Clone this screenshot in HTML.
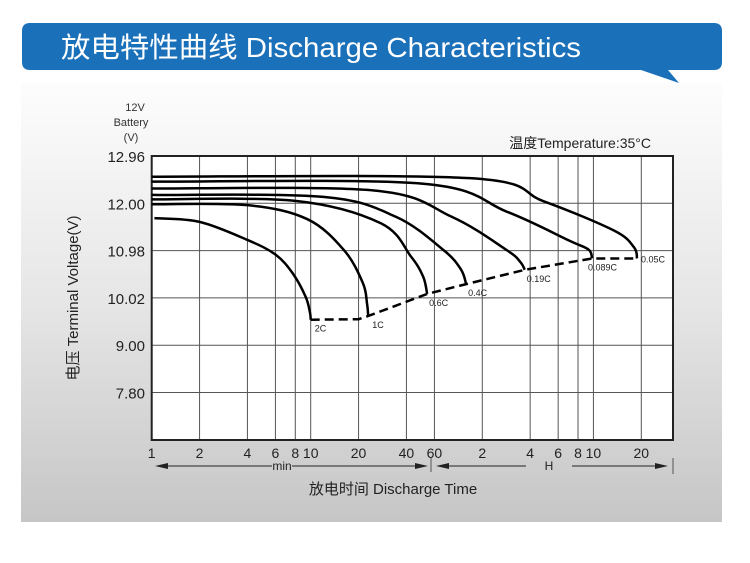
<!DOCTYPE html>
<html><head><meta charset="utf-8"><style>
html,body{margin:0;padding:0;background:#fff;}
svg{display:block;font-family:"Liberation Sans","Noto Sans CJK SC",sans-serif;}
</style></head><body>
<svg id="chart" width="750" height="563" viewBox="0 0 750 563">
<defs>
<linearGradient id="panelGrad" x1="0" y1="0" x2="0" y2="1">
<stop offset="0" stop-color="#fdfdfd"/><stop offset="0.5" stop-color="#e6e6e6"/><stop offset="1" stop-color="#c6c6c6"/>
</linearGradient>
</defs>
<rect x="21" y="82" width="701" height="440" fill="url(#panelGrad)"/>
<path d="M30,23 H714 Q722,23 722,31 V62 Q722,70 714,70 H668 L679,83 L641,70 H30 Q22,70 22,62 V31 Q22,23 30,23 Z" fill="#1a70b9"/>
<text x="61" y="57" font-size="28" fill="#fff" textLength="520" lengthAdjust="spacingAndGlyphs">放电特性曲线 Discharge Characteristics</text>
<text x="135" y="111" font-size="11" text-anchor="middle" fill="#333">12V</text>
<text x="131" y="126" font-size="11" text-anchor="middle" fill="#333">Battery</text>
<text x="131" y="141" font-size="11" text-anchor="middle" fill="#333">(V)</text>
<text x="651" y="148" font-size="14" text-anchor="end" fill="#222">温度Temperature:35°C</text>
<text transform="translate(78,298) rotate(-90)" font-size="15" text-anchor="middle" fill="#222">电压 Terminal Voltage(V)</text>
<text x="393" y="494" font-size="15" text-anchor="middle" fill="#222">放电时间 Discharge Time</text>
<g id="plot"></g>
</svg>
<script>
// Data
const yTickValues = [12.96, 12.00, 10.98, 10.02, 9.00, 7.80];
const xTickMinutes = [1, 2, 4, 6, 8, 10, 20, 40, 60, 120, 240, 360, 480, 600, 1200];
const xTickLabels = ["1","2","4","6","8","10","20","40","60","2","4","6","8","10","20"];
const seriesNames = ["2C","1C","0.6C","0.4C","0.19C","0.089C","0.05C"];
const curve2C   = [[1.04,11.68],[2,11.6],[4,11.21],[6,10.9],[7.7,10.52],[9.3,10.04],[9.9,9.7],[10,9.55]];
const curve1C   = [[1,11.98],[4,11.96],[9.5,11.66],[16.2,10.99],[21.3,10.32],[22.6,9.9],[23,9.63]];
const curve06C  = [[1,12.08],[8,12.05],[27.6,11.57],[42.7,10.86],[51,10.45],[54,10.10]];
const curve04C  = [[1,12.17],[12,12.13],[34.3,11.71],[68.5,10.99],[88,10.6],[95,10.30]];
const curve019C = [[1,12.30],[25,12.26],[77,11.71],[171,10.99],[208,10.75],[222,10.59]];
const curve0089C= [[1,12.44],[50,12.40],[171,11.82],[426,11.19],[560,11.0],[588,10.82]];
const curve005C = [[1,12.54],[100,12.51],[292,12.04],[810,11.41],[1080,11.05],[1128,10.82]];
const dashedCutoff = [[10,9.55],[20,9.56],[23,9.63],[54,10.10],[95,10.30],[222,10.59],[588,10.82],[1128,10.82]];
const labelOffsets = [[4,12],[4,12],[2,12],[2,12],[2,12],[-4,12],[4,4]];

// Axes
const X0=151.7, DEC=159, XR=673, YT=156, STEP=47.3, YB=440;
function xs(t){return X0+DEC*Math.log10(t);}
function ys(v){
  for(let i=0;i<yTickValues.length-1;i++){
    const a=yTickValues[i], b=yTickValues[i+1];
    if(v<=a && v>=b) return YT+STEP*(i+(a-v)/(a-b));
  }
  if(v>yTickValues[0]) return YT-STEP*(v-yTickValues[0])/(yTickValues[0]-yTickValues[1]);
  return YT+STEP*(yTickValues.length-1);
}
const NS="http://www.w3.org/2000/svg";
const plot=document.getElementById('plot');
function mk(tag,attrs,parent){const e=document.createElementNS(NS,tag);for(const k in attrs)e.setAttribute(k,attrs[k]);(parent||plot).appendChild(e);return e;}

let bg=mk('rect',{x:X0,y:YT,width:XR-X0,height:YB-YT,fill:'#fff'});


yTickValues.forEach((v,i)=>{
  const y=YT+STEP*i;
  if(i>0){let g=mk('line',{x1:X0,x2:XR,y1:y,y2:y,stroke:'#555','stroke-width':1});
  
  }
  let t=mk('text',{x:145,y:y+6,'font-size':15,'text-anchor':'end',fill:'#222'});
  
  
  t.textContent=v.toFixed(2);
});
xTickMinutes.forEach((m,i)=>{
  const x=xs(m);
  if(m>1){let g=mk('line',{x1:x,x2:x,y1:YT,y2:YB,stroke:'#555','stroke-width':1});
  
  }
  let t=mk('text',{x:x,y:458,'font-size':14,'text-anchor':'middle',fill:'#222'});
  
  
  t.textContent=xTickLabels[i];
});
let fr=mk('rect',{x:X0,y:YT,width:XR-X0,height:YB-YT,fill:'none',stroke:'#222','stroke-width':2});



function smoothPath(pts){
  const p=pts.map(d=>[xs(d[0]),ys(d[1])]);
  let s='M'+p[0][0]+','+p[0][1];
  for(let i=0;i<p.length-1;i++){
    const p0=p[Math.max(0,i-1)],p1=p[i],p2=p[i+1],p3=p[Math.min(p.length-1,i+2)];
    const c1=[p1[0]+(p2[0]-p0[0])/6,p1[1]+(p2[1]-p0[1])/6];
    const c2=[p2[0]-(p3[0]-p1[0])/6,p2[1]-(p3[1]-p1[1])/6];
    s+=' C'+c1[0]+','+c1[1]+' '+c2[0]+','+c2[1]+' '+p2[0]+','+p2[1];
  }
  return s;
}
const allCurves=[curve2C,curve1C,curve06C,curve04C,curve019C,curve0089C,curve005C];
allCurves.forEach((c,i)=>{
  let p=mk('path',{d:smoothPath(c),fill:'none',stroke:'#000','stroke-width':2.5});
  
  
  const e=c[c.length-1];
  let t=mk('text',{x:xs(e[0])+labelOffsets[i][0],y:ys(e[1])+labelOffsets[i][1],'font-size':9,fill:'#222'});
  
  
  t.textContent=seriesNames[i];
});
let dl=mk('polyline',{points:dashedCutoff.map(d=>xs(d[0])+','+ys(d[1])).join(' '),fill:'none',stroke:'#000','stroke-width':2.5,'stroke-dasharray':'9,5'});



// time range arrows
const ay=466;
function arrow(x1,x2,name){
  let l=mk('line',{x1:x1,x2:x2,y1:ay,y2:ay,stroke:'#222','stroke-width':1});
  
  
}
arrow(160,272,'min-arrow-left');arrow(292,420,'min-arrow-right');
arrow(445,526,'h-arrow-left');arrow(572,660,'h-arrow-right');
[[155,ay,168,ay-3,168,ay+3],[428,ay,415,ay-3,415,ay+3],[436,ay,449,ay-3,449,ay+3],[668,ay,655,ay-3,655,ay+3]].forEach(a=>{
  let h=mk('polygon',{points:a[0]+','+a[1]+' '+a[2]+','+a[3]+' '+a[4]+','+a[5],fill:'#222'});
  
  
});
[[431,ay-8,ay+6],[673,ay-8,ay+8]].forEach(s=>{
  let l=mk('line',{x1:s[0],x2:s[0],y1:s[1],y2:s[2],stroke:'#555','stroke-width':1});
  
  
});
let tm=mk('text',{x:282,y:ay+4,'font-size':12,'text-anchor':'middle',fill:'#222'});


tm.textContent='min';
let th=mk('text',{x:549,y:ay+4,'font-size':12,'text-anchor':'middle',fill:'#222'});


th.textContent='H';
</script>
</body></html>
